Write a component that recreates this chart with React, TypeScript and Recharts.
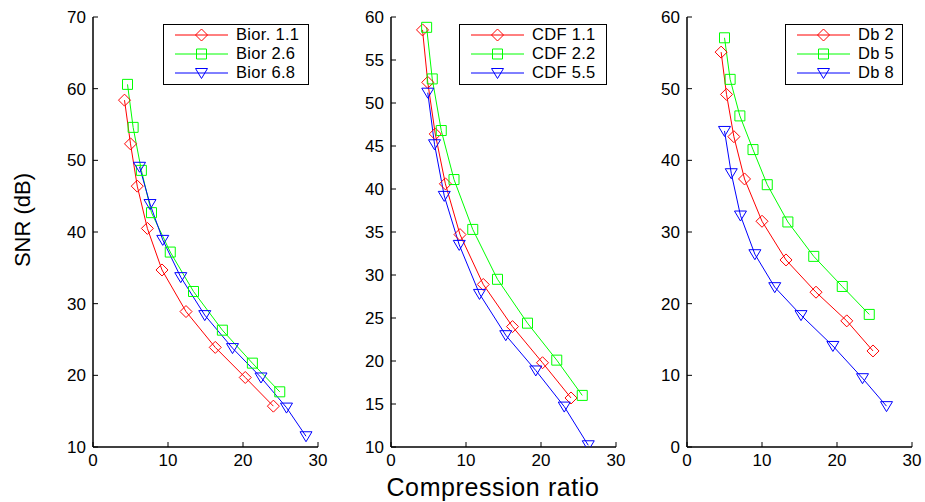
import { LineChart, Line, XAxis, YAxis, Legend } from 'recharts';

// compression ratio (x) and SNR in dB (y)
const crBior11 = [4.2, 5.0, 5.9, 7.25, 9.2, 12.4, 16.3, 20.3, 24.05];
const snrBior11 = [58.4, 52.3, 46.4, 40.5, 34.7, 28.9, 23.9, 19.7, 15.7];
const crBior26 = [4.6, 5.35, 6.45, 7.8, 10.3, 13.4, 17.25, 21.25, 24.9];
const snrBior26 = [60.6, 54.6, 48.6, 42.7, 37.2, 31.7, 26.3, 21.7, 17.7];
const crBior68 = [6.2, 7.6, 9.3, 11.7, 14.9, 18.6, 22.4, 25.8, 28.4];
const snrBior68 = [49.1, 43.9, 38.9, 33.7, 28.4, 23.8, 19.7, 15.5, 11.5];

const crCdf11 = [4.2, 4.9, 5.9, 7.25, 9.2, 12.3, 16.2, 20.2, 24.0];
const snrCdf11 = [58.5, 52.4, 46.4, 40.6, 34.7, 28.9, 24.0, 19.8, 15.7];
const crCdf22 = [4.75, 5.5, 6.7, 8.4, 10.9, 14.2, 18.2, 22.1, 25.5];
const snrCdf22 = [58.8, 52.8, 46.8, 41.1, 35.3, 29.5, 24.4, 20.1, 16.0];
const crCdf55 = [4.9, 5.8, 7.1, 9.1, 11.8, 15.3, 19.3, 23.1, 26.3];
const snrCdf55 = [51.2, 45.2, 39.2, 33.5, 27.8, 23.0, 18.9, 14.7, 10.2];

const crDb2 = [4.55, 5.27, 6.25, 7.67, 10.0, 13.2, 17.2, 21.3, 24.8];
const snrDb2 = [55.1, 49.2, 43.3, 37.4, 31.5, 26.1, 21.6, 17.6, 13.4];
const crDb5 = [5.0, 5.75, 7.05, 8.8, 10.7, 13.45, 16.9, 20.7, 24.3];
const snrDb5 = [57.1, 51.3, 46.2, 41.5, 36.6, 31.4, 26.6, 22.4, 18.5];
const crDb8 = [5.0, 5.9, 7.13, 9.05, 11.7, 15.2, 19.45, 23.4, 26.6];
const snrDb8 = [44.1, 38.2, 32.3, 26.9, 22.3, 18.4, 14.1, 9.6, 5.7];

const xTicks = [0, 10, 20, 30];
const yTicksBior = [10, 20, 30, 40, 50, 60, 70];
const yTicksCdf = [10, 15, 20, 25, 30, 35, 40, 45, 50, 55, 60];
const yTicksDb = [0, 10, 20, 30, 40, 50, 60];

const FONT = '"Liberation Sans", Arial, Helvetica, sans-serif';
const RED = '#ff0000';
const GREEN = '#00ff00';
const BLUE = '#0000ff';

type Shape = 'diamond' | 'square' | 'triangle';

interface Series {
  name: string;
  color: string;
  shape: Shape;
  points: { x: number; y: number }[];
}

const zip = (xs: number[], ys: number[]) => xs.map((x, i) => ({ x, y: ys[i] }));

function markerPath(shape: Shape, cx: number, cy: number) {
  if (shape === 'diamond') return `M${cx},${cy - 6}L${cx + 6},${cy}L${cx},${cy + 6}L${cx - 6},${cy}Z`;
  if (shape === 'square') return `M${cx - 5},${cy - 5}H${cx + 5}V${cy + 5}H${cx - 5}Z`;
  return `M${cx - 6},${cy - 4.5}H${cx + 6}L${cx},${cy + 5.5}Z`;
}

function LegendBox({ series, width }: { series: Series[]; width: number }) {
  return (
    <div
      style={{
        width,
        height: 59,
        border: '1.5px solid #000',
        background: '#fff',
        fontFamily: FONT,
        fontSize: 16.5,
        boxSizing: 'content-box',
      }}
    >
      {series.map((s) => (
        <div key={s.name} style={{ display: 'flex', alignItems: 'center', height: 19 }}>
          <svg width={72} height={19} style={{ flex: 'none' }}>
            <line x1={11} x2={64} y1={10} y2={10} stroke={s.color} strokeWidth={1} />
            <path d={markerPath(s.shape, 37.5, 10)} fill="none" stroke={s.color} />
          </svg>
          <span style={{ color: '#000', whiteSpace: 'nowrap', letterSpacing: 0.3 }}>{s.name}</span>
        </div>
      ))}
    </div>
  );
}

interface PanelProps {
  left: number;
  series: Series[];
  yDomain: [number, number];
  yTicks: number[];
  legendWidth: number;
}

const AXIS_W = 50;
const PLOT_W = 225;
const PLOT_H = 430;
const TOP = 17;

function Panel({ left, series, yDomain, yTicks, legendWidth }: PanelProps) {
  const tickStyle = { fontSize: 17, fill: '#000', fontFamily: FONT };
  const axisLine = { stroke: '#000', strokeWidth: 1.5 };
  const blank = () => '';
  return (
    <div style={{ position: 'absolute', left: left - AXIS_W, top: 0 }}>
      <LineChart
        width={AXIS_W + PLOT_W + 10}
        height={TOP + PLOT_H + 40}
        margin={{ top: TOP, right: 10, bottom: 0, left: 0 }}
      >
        <XAxis
          xAxisId="b"
          type="number"
          dataKey="x"
          domain={[0, 30]}
          ticks={xTicks}
          tick={tickStyle}
          tickSize={-5}
          tickMargin={12}
          height={40}
          stroke="#000"
          axisLine={axisLine}
          allowDataOverflow
        />
        <XAxis
          xAxisId="t"
          orientation="top"
          type="number"
          dataKey="x"
          domain={[0, 30]}
          ticks={xTicks}
          tickFormatter={blank}
          tickSize={-5}
          height={0}
          stroke="#000"
          axisLine={axisLine}
        />
        <YAxis
          yAxisId="l"
          type="number"
          domain={yDomain}
          ticks={yTicks}
          tick={tickStyle}
          tickSize={-5}
          tickMargin={12}
          width={AXIS_W}
          stroke="#000"
          axisLine={axisLine}
          allowDataOverflow
        />
        <YAxis
          yAxisId="r"
          orientation="right"
          type="number"
          domain={yDomain}
          ticks={yTicks}
          tickFormatter={blank}
          tickSize={-5}
          width={0}
          stroke="#000"
          axisLine={axisLine}
        />
        {series.map((s) => (
          <Line
            key={s.name}
            xAxisId="b"
            yAxisId="l"
            data={s.points}
            dataKey="y"
            name={s.name}
            stroke={s.color}
            strokeWidth={1}
            isAnimationActive={false}
            dot={(p: any) => (
              <path
                key={`${s.name}-${p.index}`}
                d={markerPath(s.shape, p.cx, p.cy)}
                fill="none"
                stroke={s.color}
                strokeWidth={1}
              />
            )}
            activeDot={false}
          />
        ))}
        <Legend
          layout="vertical"
          align="center"
          verticalAlign="middle"
          wrapperStyle={{ top: 24, left: AXIS_W + PLOT_W - 8 - legendWidth - 3, width: legendWidth + 3 }}
          content={() => <LegendBox series={series} width={legendWidth} />}
        />
      </LineChart>
    </div>
  );
}

const biorSeries: Series[] = [
  { name: 'Bior. 1.1', color: RED, shape: 'diamond', points: zip(crBior11, snrBior11) },
  { name: 'Bior 2.6', color: GREEN, shape: 'square', points: zip(crBior26, snrBior26) },
  { name: 'Bior 6.8', color: BLUE, shape: 'triangle', points: zip(crBior68, snrBior68) },
];
const cdfSeries: Series[] = [
  { name: 'CDF 1.1', color: RED, shape: 'diamond', points: zip(crCdf11, snrCdf11) },
  { name: 'CDF 2.2', color: GREEN, shape: 'square', points: zip(crCdf22, snrCdf22) },
  { name: 'CDF 5.5', color: BLUE, shape: 'triangle', points: zip(crCdf55, snrCdf55) },
];
const dbSeries: Series[] = [
  { name: 'Db 2', color: RED, shape: 'diamond', points: zip(crDb2, snrDb2) },
  { name: 'Db 5', color: GREEN, shape: 'square', points: zip(crDb5, snrDb5) },
  { name: 'Db 8', color: BLUE, shape: 'triangle', points: zip(crDb8, snrDb8) },
];

export default function App() {
  return (
    <div
      style={{
        position: 'absolute',
        left: 0,
        top: 0,
        width: 925,
        height: 502,
        background: '#fff',
        fontFamily: FONT,
        overflow: 'hidden',
      }}
    >
      <Panel left={93} series={biorSeries} yDomain={[10, 70]} yTicks={yTicksBior} legendWidth={144} />
      <Panel left={391} series={cdfSeries} yDomain={[10, 60]} yTicks={yTicksCdf} legendWidth={146} />
      <Panel left={687} series={dbSeries} yDomain={[0, 60]} yTicks={yTicksDb} legendWidth={116} />

      {/* shared axis titles */}
      <div
        style={{
          position: 'absolute',
          left: 22.5,
          top: 220,
          transform: 'translate(-50%, -50%) rotate(-90deg)',
          fontSize: 22,
          whiteSpace: 'nowrap',
          color: '#000',
        }}
      >
        SNR (dB)
      </div>
      <div
        style={{
          position: 'absolute',
          left: 493,
          top: 487,
          transform: 'translate(-50%, -50%)',
          fontSize: 25,
          letterSpacing: 0.6,
          whiteSpace: 'nowrap',
          color: '#000',
        }}
      >
        Compression ratio
      </div>
    </div>
  );
}
